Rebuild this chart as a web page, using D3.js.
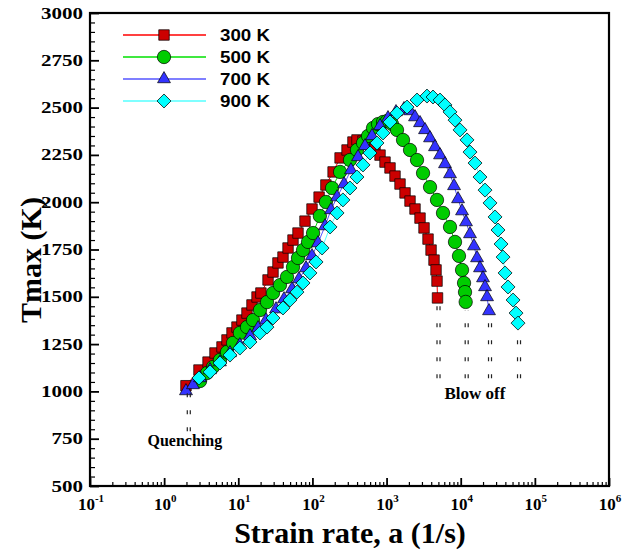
<!DOCTYPE html>
<html><head><meta charset="utf-8">
<script src="https://cdn.jsdelivr.net/npm/d3@7"></script>
<style>body{margin:0;background:#fff} svg{display:block}</style>
</head><body><svg id="chart" width="622" height="552"></svg>
<script>
// ---------------- DATA ----------------
const seriesNames = ["300 K", "500 K", "700 K", "900 K"];

const strain300 = [1.97, 2.95, 3.91, 4.85, 6.03, 7.04, 8.23, 9.6, 11.2, 13.1, 15.3, 17.9, 20.2, 25.2, 29.4, 34.3, 40.1, 46.9, 54.7, 63.9, 79.4, 98.7, 123, 152, 190, 236, 293, 352, 399, 481, 580, 698, 816, 953, 1113, 1300, 1518, 1774, 2071, 2419, 2825, 3200, 3624, 3981, 4365, 4645, 4790, 4864];
const tmax300 = [1030, 1113, 1155, 1203, 1235, 1272, 1309, 1340, 1377, 1414, 1457, 1499, 1520, 1589, 1631, 1679, 1710, 1758, 1800, 1837, 1900, 1964, 2027, 2091, 2160, 2234, 2276, 2318, 2329, 2323, 2308, 2281, 2249, 2212, 2181, 2138, 2096, 2049, 2006, 1964, 1916, 1864, 1805, 1747, 1694, 1642, 1583, 1494];

const strain500 = [3.05, 3.79, 4.56, 5.66, 7.04, 8.49, 10.5, 13.1, 15.8, 19.6, 24.4, 29.4, 36.5, 45.4, 54.7, 63.9, 74.7, 87.2, 102, 126, 152, 184, 236, 321, 399, 481, 562, 656, 767, 896, 1014, 1184, 1383, 1667, 2071, 2575, 3103, 3855, 4790, 5768, 7172, 8375, 9480, 10420, 11090, 11430, 11670];
const tmax500 = [1055, 1097, 1129, 1166, 1208, 1256, 1309, 1340, 1377, 1430, 1472, 1520, 1562, 1605, 1657, 1705, 1747, 1790, 1837, 1927, 2001, 2075, 2160, 2223, 2276, 2313, 2350, 2392, 2413, 2424, 2429, 2413, 2382, 2329, 2276, 2223, 2154, 2080, 2012, 1943, 1869, 1790, 1716, 1642, 1573, 1525, 1473];

const strain700 = [1.97, 2.45, 3.05, 4.16, 5.66, 7.73, 10.5, 14.4, 18.5, 23.7, 32.3, 41.4, 53.1, 65.9, 81.9, 98.7, 119, 148, 178, 215, 267, 331, 412, 512, 636, 816, 1045, 1340, 1718, 2071, 2419, 2825, 3300, 3855, 4500, 5260, 6138, 7172, 8128, 9204, 10420, 11780, 13340, 15100, 16600, 18200, 19990, 21280, 22650, 24080];
const tmax700 = [1002, 1034, 1071, 1113, 1155, 1203, 1245, 1293, 1335, 1377, 1435, 1488, 1541, 1594, 1652, 1716, 1784, 1874, 1959, 2027, 2096, 2170, 2239, 2297, 2350, 2403, 2445, 2477, 2493, 2482, 2450, 2419, 2382, 2339, 2292, 2249, 2202, 2149, 2086, 2017, 1953, 1895, 1832, 1768, 1705, 1652, 1599, 1552, 1499, 1425];

const strain900 = [2.95, 4.16, 5.66, 7.73, 10.5, 14.4, 19.6, 24.4, 29.4, 40.1, 49.9, 61.9, 74.7, 92.7, 112, 135, 173, 215, 258, 321, 399, 481, 598, 743, 896, 1113, 1383, 1888, 2575, 3508, 4229, 5260, 6138, 7172, 8375, 9790, 12160, 13340, 15590, 18200, 21280, 24840, 29040, 31860, 34990, 37230, 39630, 43450, 50810, 55720, 59290];
const tmax900 = [1071, 1103, 1150, 1192, 1229, 1261, 1309, 1340, 1388, 1441, 1483, 1525, 1573, 1626, 1684, 1758, 1869, 1943, 2012, 2075, 2133, 2197, 2260, 2313, 2366, 2424, 2471, 2503, 2540, 2561, 2556, 2540, 2514, 2477, 2434, 2382, 2329, 2265, 2207, 2133, 2064, 1996, 1922, 1853, 1779, 1710, 1626, 1552, 1483, 1414, 1361];

const yTickValues = [500, 750, 1000, 1250, 1500, 1750, 2000, 2250, 2500, 2750, 3000];
const xTickExponents = [-1, 0, 1, 2, 3, 4, 5, 6];

const quenchLabel = "Quenching";
const blowOffLabel = "Blow off";
const quenchStrain = 2.15;          // where the quenching dashes sit
const quenchTop = 990, quenchBottom = 780;
const blowOffBottom = 1070;
const xTitle = "Strain rate, a (1/s)";
const yTitle = "Tmax (K)";

// ---------------- STYLE / LAYOUT ----------------
const L = 90, R = 609, T = 13, B = 486;
const lineColors = ["#ff0000", "#00e000", "#5555ff", "#55ffff"];
const fillColors = ["#cc0000", "#00cc00", "#3333ff", "#00ffff"];
const symbols = [
  d3.symbol(d3.symbolSquare, 110)(),
  d3.symbol(d3.symbolCircle, 140)(),
  d3.symbol(d3.symbolTriangle, 72)(),
  d3.symbol(d3.symbolSquare, 98)()
];
const rotations = [0, 0, 0, 45];

const series = [
  {a: strain300, t: tmax300},
  {a: strain500, t: tmax500},
  {a: strain700, t: tmax700},
  {a: strain900, t: tmax900}
].map((s, i) => ({
  name: seriesNames[i],
  pts: s.a.map((v, j) => ({a: v, t: s.t[j]})),
  line: lineColors[i], fill: fillColors[i], sym: symbols[i], rot: rotations[i]
}));

const svg = d3.select("#chart");
const x = d3.scaleLog().domain([0.1, 1e6]).range([L, R]);
const y = d3.scaleLinear().domain([500, 3000]).range([B, T]);

// ---------------- AXES ----------------
const xMajor = xTickExponents.map(e => Math.pow(10, e));
const xMinor = [];
for (let e = -1; e < 6; e++) for (let k = 2; k < 10; k++) xMinor.push(k * Math.pow(10, e));
const yMinor = d3.range(550, 3000, 50).filter(v => v % 250 !== 0);

function styleAxis(g, w) {
  g.select(".domain").remove();
  g.selectAll(".tick line").attr("stroke", "#000").attr("stroke-width", w);
}
svg.append("g").attr("transform", `translate(0,${B})`)
  .call(d3.axisBottom(x).tickValues(xMinor).tickSize(-4).tickFormat(""))
  .call(g => styleAxis(g, 1.2));
svg.append("g").attr("transform", `translate(0,${B})`)
  .call(d3.axisBottom(x).tickValues(xMajor).tickSize(-8).tickFormat(""))
  .call(g => styleAxis(g, 1.8));
svg.append("g").attr("transform", `translate(${L},0)`)
  .call(d3.axisLeft(y).tickValues(yMinor).tickSize(-5).tickFormat(""))
  .call(g => styleAxis(g, 1.2));
svg.append("g").attr("transform", `translate(${L},0)`)
  .call(d3.axisLeft(y).tickValues(yTickValues).tickSize(-9).tickFormat(""))
  .call(g => styleAxis(g, 1.8));

// y tick labels
svg.append("g").selectAll("text").data(yTickValues).join("text")
  .attr("x", 83).attr("y", d => y(d) + 5.5)
  .attr("text-anchor", "end")
  .attr("font-family", "Liberation Serif, serif").attr("font-weight", "bold")
  .attr("font-size", 16)
  .attr("textLength", d => String(d).length * 10.5)
  .attr("lengthAdjust", "spacingAndGlyphs")
  .text(d => d);

// x tick labels (10^n)
const xl = svg.append("g").selectAll("text").data(xTickExponents).join("text")
  .attr("x", d => x(Math.pow(10, d)) + 1).attr("y", 510)
  .attr("text-anchor", "middle")
  .attr("font-family", "Liberation Serif, serif").attr("font-weight", "bold")
  .attr("font-size", 17);
xl.append("tspan").text("10");
xl.append("tspan").attr("dy", -8).attr("font-size", 11).text(d => d);

// axis titles
svg.append("text").attr("x", 350).attr("y", 543).attr("text-anchor", "middle")
  .attr("font-family", "Liberation Serif, serif").attr("font-weight", "bold")
  .attr("font-size", 30).text(xTitle);
svg.append("text").attr("transform", "translate(41,260) rotate(-90)").attr("text-anchor", "middle")
  .attr("font-family", "Liberation Serif, serif").attr("font-weight", "bold")
  .attr("font-size", 30).text(yTitle);

// ---------------- SERIES ----------------
const line = d3.line().x(d => x(d.a)).y(d => y(d.t));
series.forEach(s => {
  svg.append("path").datum(s.pts).attr("d", line)
    .attr("fill", "none").attr("stroke", s.line).attr("stroke-width", 1);
});
series.forEach(s => {
  svg.append("g").selectAll("path").data(s.pts).join("path")
    .attr("d", s.sym)
    .attr("transform", d => `translate(${x(d.a)},${y(d.t)}) rotate(${s.rot})`)
    .attr("fill", s.fill).attr("stroke", "#000").attr("stroke-width", 0.7);
});

// ---------------- ANNOTATIONS ----------------
function dashPair(xc, y1, y2) {
  [-1.5, 1.5].forEach(off => {
    svg.append("line").attr("x1", xc + off).attr("x2", xc + off)
      .attr("y1", y1).attr("y2", y2)
      .attr("stroke", "#222").attr("stroke-width", 1.2)
      .attr("stroke-dasharray", "4 13");
  });
}
// quenching
dashPair(x(quenchStrain), y(quenchTop), y(quenchBottom));
svg.append("text").attr("x", x(quenchStrain) - 4).attr("y", 446).attr("text-anchor", "middle")
  .attr("font-family", "Liberation Serif, serif").attr("font-weight", "bold")
  .attr("font-size", 16).text(quenchLabel);
// blow off: one dashed column under the last point of each series
series.forEach(s => {
  const last = s.pts[s.pts.length - 1];
  dashPair(x(last.a) + 1, y(blowOffBottom), y(last.t) + 8);
});
svg.append("text").attr("x", 475).attr("y", 399).attr("text-anchor", "middle")
  .attr("font-family", "Liberation Serif, serif").attr("font-weight", "bold")
  .attr("font-size", 17).text(blowOffLabel);

// ---------------- LEGEND ----------------
const leg = svg.append("g").selectAll("g").data(series).join("g")
  .attr("transform", (d, i) => `translate(0,${35 + i * 22})`);
leg.append("line").attr("x1", 123).attr("x2", 206).attr("y1", 0).attr("y2", 0)
  .attr("stroke", d => d.line).attr("stroke-width", 1.3);
leg.append("path").attr("d", d => d.sym)
  .attr("transform", d => `translate(164,0) rotate(${d.rot})`)
  .attr("fill", d => d.fill).attr("stroke", "#000").attr("stroke-width", 0.7);
leg.append("text").attr("x", 220).attr("y", 6)
  .attr("font-family", "Liberation Sans, Arial, sans-serif").attr("font-weight", "bold")
  .attr("font-size", 16).attr("textLength", 50).attr("lengthAdjust", "spacingAndGlyphs")
  .text(d => d.name);

// ---------------- FRAME ----------------
svg.append("rect").attr("x", L).attr("y", T).attr("width", R - L).attr("height", B - T)
  .attr("fill", "none").attr("stroke", "#000").attr("stroke-width", 2.2);
</script>
</body></html>
